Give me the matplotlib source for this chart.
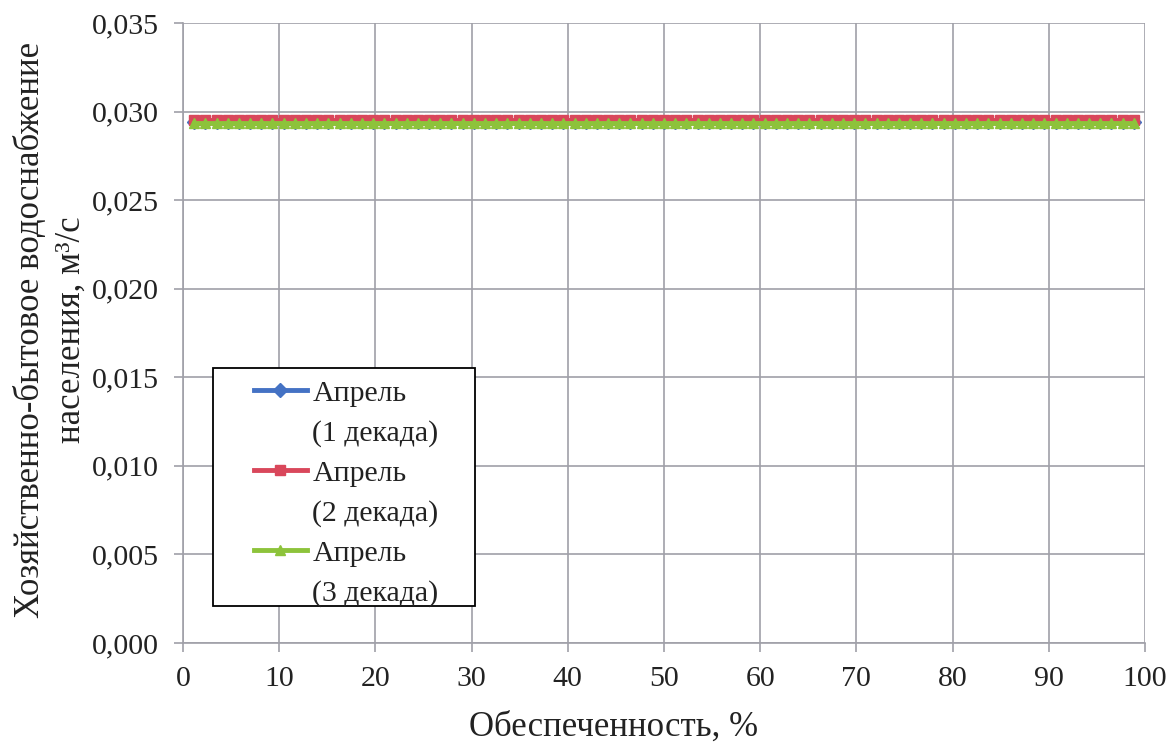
import numpy as np
import matplotlib.pyplot as plt
from matplotlib.lines import Line2D
from matplotlib.patches import Rectangle
from matplotlib.ticker import FuncFormatter, MultipleLocator

plt.rcParams['font.family'] = ['Liberation Serif', 'DejaVu Serif']

# обеспеченность, %
provision = [1.16, 2.33, 3.49, 4.65, 5.81, 6.98, 8.14, 9.30, 10.47, 11.63,
             12.79, 13.95, 15.12, 16.28, 17.44, 18.60, 19.77, 20.93, 22.09, 23.26,
             24.42, 25.58, 26.74, 27.91, 29.07, 30.23, 31.40, 32.56, 33.72, 34.88,
             36.05, 37.21, 38.37, 39.53, 40.70, 41.86, 43.02, 44.19, 45.35, 46.51,
             47.67, 48.84, 50.00, 51.16, 52.33, 53.49, 54.65, 55.81, 56.98, 58.14,
             59.30, 60.47, 61.63, 62.79, 63.95, 65.12, 66.28, 67.44, 68.60, 69.77,
             70.93, 72.09, 73.26, 74.42, 75.58, 76.74, 77.91, 79.07, 80.23, 81.40,
             82.56, 83.72, 84.88, 86.05, 87.21, 88.37, 89.53, 90.70, 91.86, 93.02,
             94.19, 95.35, 96.51, 97.67, 98.84]

# water demand per decade is constant over provision, m3/s
months = ["Апрель", "Апрель", "Апрель"]
decades = ["(1 декада)", "(2 декада)", "(3 декада)"]
levels = [0.02942, 0.02950, 0.02935]
colors = ["#4472C4", "#D9475B", "#8DC33B"]
markers = ["D", "s", "^"]

TXT = "#222222"
GRID = "#a0a0a8"
W, H = 1169, 745
L, R, T, B = 183, 1145, 23, 643


def ax_x(px):
    return (px - L) / (R - L)


def ax_y(py):
    return (B - py) / (B - T)


fig = plt.figure(figsize=(W / 100, H / 100), dpi=100)
ax = fig.add_axes([L / W, 1 - B / H, (R - L) / W, (B - T) / H])

handles, names = [], []
for m, d, lvl, col, mk in zip(months, decades, levels, colors, markers):
    ln, = ax.plot(provision, np.full(len(provision), lvl), color=col, marker=mk,
                  markersize=7, linewidth=3.5)
    # second text line of each entry gets an empty handle
    handles += [ln, Line2D([], [], color="none")]
    names += [m, d]

ax.set_xlim(0, 100)
ax.set_ylim(0, 0.035)
ax.xaxis.set_major_locator(MultipleLocator(10))
ax.yaxis.set_major_locator(MultipleLocator(0.005))
ax.yaxis.set_major_formatter(FuncFormatter(lambda v, p: f"{v:.3f}".replace(".", ",")))
ax.grid(True, color=GRID, linewidth=1.2)
ax.set_axisbelow(True)
for side in ["top", "right"]:
    ax.spines[side].set_visible(False)
for side in ["left", "bottom"]:
    ax.spines[side].set_color(GRID)
    ax.spines[side].set_linewidth(1.2)
ax.tick_params(axis="both", labelsize=21.5, color=GRID, length=6.5, width=1.2,
               labelcolor=TXT)
ax.tick_params(axis="y", pad=11)
ax.tick_params(axis="x", pad=10)

ax.set_xlabel("Обеспеченность, %", fontsize=25, color=TXT)
ax.xaxis.set_label_coords(ax_x(614), ax_y(711))
ax.set_ylabel("Хозяйственно-бытовое водоснабжение\nнаселения, м³/с", fontsize=25,
              color=TXT, linespacing=1.3)
ax.yaxis.set_label_coords(ax_x(88), ax_y(330))

# legend frame drawn by hand (wider on the right, like the original)
ax.add_patch(Rectangle((ax_x(213), ax_y(606)), ax_x(475) - ax_x(213),
                       ax_y(368) - ax_y(606), transform=ax.transAxes,
                       facecolor="white", edgecolor="black", linewidth=1.3,
                       zorder=4))
leg = ax.legend(handles, names, loc="upper left",
                bbox_to_anchor=(ax_x(254), ax_y(380)), borderaxespad=0,
                borderpad=0, fontsize=21.5, frameon=False, handlelength=1.77,
                labelspacing=0.43, handletextpad=0.18)
leg.set_zorder(5)
for t in leg.get_texts():
    t.set_color(TXT)

fig.savefig("out.png", dpi=100)
